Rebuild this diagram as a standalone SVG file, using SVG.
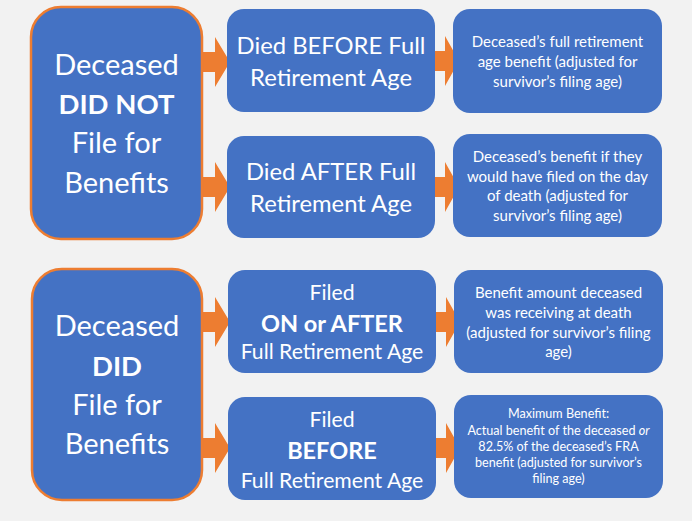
<svg xmlns="http://www.w3.org/2000/svg" width="692" height="521" viewBox="0 0 692 521">
<defs>
<style>
.bg{fill:#f2f2f2}
.box{fill:#4472c4}
.main{fill:#4472c4;stroke:#ed7d31;stroke-width:2.5}
.arr{fill:#ed7d31}
text{font-family:Lato,"Open Sans","Liberation Sans",sans-serif;fill:#ffffff;text-anchor:middle}
.big{font-size:29px}
.bigb{font-size:27.5px;font-weight:bold}
.mid{font-size:23.8px}
.midb{font-size:23.5px;font-weight:bold}
.sm{font-size:21.2px}
.r{font-size:15px}
.xs{font-size:12.6px}
</style>
</defs>
<rect class="bg" x="0" y="0" width="692" height="521"/>
<g id="connectors">
<path class="arr" d="M202,52 H215 V37 L230,62 L215,87 V72 H202 Z"/>
<path class="arr" d="M202,177 H215 V162 L230,187 L215,212 V197 H202 Z"/>
<path class="arr" d="M202,312 H215 V297 L230,322 L215,347 V332 H202 Z"/>
<path class="arr" d="M202,438 H215 V423 L230,448 L215,473 V458 H202 Z"/>
<path class="arr" d="M434,51 H445 V36 L459,61 L445,86 V71 H434 Z"/>
<path class="arr" d="M434,177 H445 V162 L459,187 L445,212 V197 H434 Z"/>
<path class="arr" d="M435,312 H446 V297 L460,322 L446,347 V332 H435 Z"/>
<path class="arr" d="M435,438 H446 V423 L460,448 L446,473 V458 H435 Z"/>
</g>
<g id="node-did-not">
<rect class="main" x="31" y="7" width="171" height="232" rx="30"/>
<text class="big" x="116.5" y="75">Deceased</text>
<text class="bigb" x="116.5" y="114">DID NOT</text>
<text class="big" x="116.5" y="153">File for</text>
<text class="big" x="116.5" y="193">Benefits</text>
</g>
<g id="node-died-before">
<rect class="box" x="227" y="9" width="208" height="103" rx="17"/>
<text class="mid" x="331" y="53.5">Died BEFORE Full</text>
<text class="mid" x="331" y="85.5">Retirement Age</text>
</g>
<g id="node-died-after">
<rect class="box" x="227" y="136" width="208" height="102" rx="17"/>
<text class="mid" x="331" y="180">Died AFTER Full</text>
<text class="mid" x="331" y="212">Retirement Age</text>
</g>
<g id="node-result-1">
<rect class="box" x="453" y="9" width="209" height="104" rx="17"/>
<text class="r" x="557.5" y="47">Deceased’s full retirement</text>
<text class="r" x="557.5" y="67">age benefit (adjusted for</text>
<text class="r" x="557.5" y="86.5">survivor’s filing age)</text>
</g>
<g id="node-result-2">
<rect class="box" x="453" y="134" width="209" height="103" rx="17"/>
<text class="r" x="557.5" y="162">Deceased’s benefit if they</text>
<text class="r" x="557.5" y="181.5">would have filed on the day</text>
<text class="r" x="557.5" y="201">of death (adjusted for</text>
<text class="r" x="557.5" y="220.5">survivor’s filing age)</text>
</g>
<g id="node-did">
<rect class="main" x="32" y="269" width="170" height="231" rx="30"/>
<text class="big" x="117" y="336">Deceased</text>
<text class="bigb" x="117" y="376">DID</text>
<text class="big" x="117" y="415">File for</text>
<text class="big" x="117" y="454">Benefits</text>
</g>
<g id="node-filed-after">
<rect class="box" x="228" y="270" width="208" height="103" rx="17"/>
<text class="sm" x="332" y="300">Filed</text>
<text class="midb" x="332" y="332">ON or AFTER</text>
<text class="sm" x="332" y="359">Full Retirement Age</text>
</g>
<g id="node-filed-before">
<rect class="box" x="228" y="397" width="208" height="103" rx="17"/>
<text class="sm" x="332" y="427">Filed</text>
<text class="midb" x="332" y="459">BEFORE</text>
<text class="sm" x="332" y="488">Full Retirement Age</text>
</g>
<g id="node-result-3">
<rect class="box" x="454" y="270" width="209" height="103" rx="17"/>
<text class="r" x="558.5" y="298">Benefit amount deceased</text>
<text class="r" x="558.5" y="318">was receiving at death</text>
<text class="r" x="558.5" y="337.5">(adjusted for survivor’s filing</text>
<text class="r" x="558.5" y="357">age)</text>
</g>
<g id="node-result-4">
<rect class="box" x="454" y="395" width="209" height="103" rx="17"/>
<text class="xs" x="558.5" y="418">Maximum Benefit:</text>
<text class="xs" x="558.5" y="434.5">Actual benefit of the deceased <tspan font-style="italic">or</tspan></text>
<text class="xs" x="558.5" y="451">82.5% of the deceased’s FRA</text>
<text class="xs" x="558.5" y="467">benefit (adjusted for survivor’s</text>
<text class="xs" x="558.5" y="483">filing age)</text>
</g>
</svg>
